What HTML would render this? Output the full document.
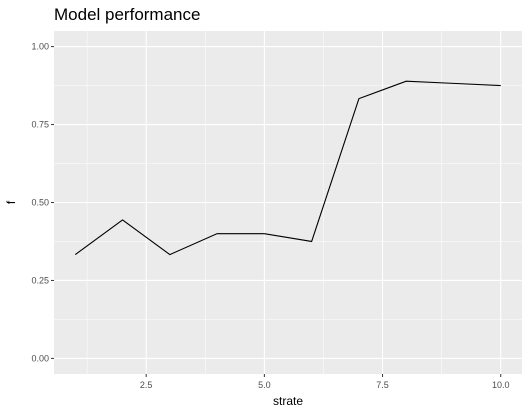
<!DOCTYPE html>
<html><head><meta charset="utf-8"><style>
body{margin:0;background:#fff;font-family:"Liberation Sans",sans-serif}
</style></head><body>
<svg id="c" width="530" height="415" xmlns="http://www.w3.org/2000/svg"></svg>
<script>
const strate=[1,2,3,4,5,6,7,8,9,10];
const fvals=[0.333,0.444,0.333,0.4,0.4,0.375,0.833,0.889,0.882,0.875];
const xTicks=[2.5,5.0,7.5,10.0];
const xTickLabels=["2.5","5.0","7.5","10.0"];
const yTicks=[0,0.25,0.5,0.75,1];
const yTickLabels=["0.00","0.25","0.50","0.75","1.00"];
const svg=document.getElementById('c');
const NS="http://www.w3.org/2000/svg";
const L=54,R=522,T=31,B=374;
const xmin=0.55,xmax=10.45,ymin=-0.05,ymax=1.05;
const X=v=>L+(v-xmin)/(xmax-xmin)*(R-L);
const Y=v=>B-(v-ymin)/(ymax-ymin)*(B-T);
function mk(tag,attrs,txt){const e=document.createElementNS(NS,tag);for(const k in attrs)e.setAttribute(k,attrs[k]);if(txt!==undefined)e.textContent=txt;svg.appendChild(e);return e;}
let p=mk('rect',{x:L,y:T,width:R-L,height:B-T,fill:'#ebebeb'});


for(let i=0;i<xTicks.length-1;i++){const m=(xTicks[i]+xTicks[i+1])/2;mk('line',{x1:X(m),x2:X(m),y1:T,y2:B,stroke:'#fff','stroke-width':0.5});}
mk('line',{x1:X(xTicks[0]-1.25),x2:X(xTicks[0]-1.25),y1:T,y2:B,stroke:'#fff','stroke-width':0.5});
for(let i=0;i<yTicks.length-1;i++){const m=(yTicks[i]+yTicks[i+1])/2;mk('line',{x1:L,x2:R,y1:Y(m),y2:Y(m),stroke:'#fff','stroke-width':0.5});}
xTicks.forEach((t,i)=>{mk('line',{x1:X(t),x2:X(t),y1:T,y2:B,stroke:'#fff','stroke-width':1.1});
mk('line',{x1:X(t),x2:X(t),y1:B,y2:B+3,stroke:'#333','stroke-width':1});
let e=mk('text',{x:X(t),y:B+14,'text-anchor':'middle','font-size':9,fill:'#4d4d4d'},xTickLabels[i]);

});
yTicks.forEach((t,i)=>{mk('line',{x1:L,x2:R,y1:Y(t),y2:Y(t),stroke:'#fff','stroke-width':1.1});
mk('line',{x1:L-3,x2:L,y1:Y(t),y2:Y(t),stroke:'#333','stroke-width':1});
let e=mk('text',{x:L-5,y:Y(t)+3,'text-anchor':'end','font-size':9,fill:'#4d4d4d'},yTickLabels[i]);

});
let line=mk('polyline',{points:strate.map((s,i)=>X(s)+','+Y(fvals[i])).join(' '),fill:'none',stroke:'#000','stroke-width':1.1});


let xt=mk('text',{x:(L+R)/2,y:405,'text-anchor':'middle','font-size':12,fill:'#000'},'strate');


let yt=mk('text',{x:15,y:(T+B)/2,'text-anchor':'middle','font-size':12,fill:'#000',transform:`rotate(-90 15 ${(T+B)/2})`},'f');


let ti=mk('text',{x:L,y:20,'font-size':17,fill:'#000'},'Model performance');


</script>
</body></html>
